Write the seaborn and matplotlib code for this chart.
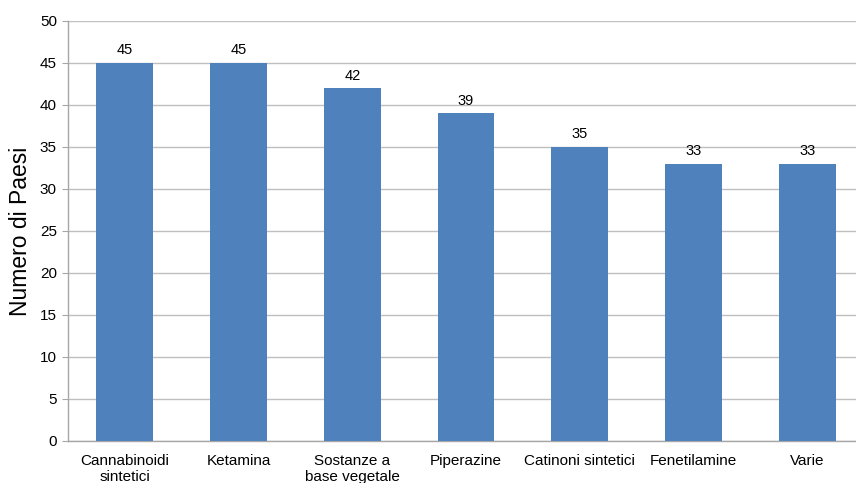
import matplotlib
matplotlib.use("Agg")
import matplotlib.pyplot as plt
import seaborn as sns
import pandas as pd

categories = ["Cannabinoidi\nsintetici", "Ketamina", "Sostanze a\nbase vegetale",
              "Piperazine", "Catinoni sintetici", "Fenetilamine", "Varie"]
values = [45, 45, 42, 39, 35, 33, 33]
yticks = list(range(0, 51, 5))

df = pd.DataFrame({"categoria": categories, "paesi": values})

sns.set_style("white")
plt.rcParams["font.family"] = ["Liberation Sans", "DejaVu Sans"]
plt.rcParams["text.color"] = "black"
plt.rcParams["axes.labelcolor"] = "black"
plt.rcParams["xtick.color"] = "black"
plt.rcParams["ytick.color"] = "black"

fig = plt.figure(figsize=(8.56, 4.83), dpi=100)
ax = fig.add_axes([68 / 856, 42 / 483, 1 - 68 / 856, 420 / 483])

sns.barplot(data=df, x="categoria", y="paesi", color="#4F81BD", saturation=1,
            width=0.5, ax=ax, zorder=3, edgecolor="none", linewidth=0)

ax.set_ylim(0, 50)
ax.set_xlim(-0.5, 6.43)
ax.set_yticks(yticks)
ax.set_yticklabels([str(t) for t in yticks], fontsize=11)
ax.grid(axis="y", color="#BFBFBF", linewidth=1, zorder=0)
ax.set_axisbelow(True)

for s in ["top", "right"]:
    ax.spines[s].set_visible(False)
for s in ["left", "bottom"]:
    ax.spines[s].set_color("#A6A6A6")
    ax.spines[s].set_linewidth(1)

ax.tick_params(axis="y", left=True, length=4, color="#A6A6A6", labelcolor="black", pad=4)
ax.tick_params(axis="x", bottom=False, labelsize=11, labelcolor="black", pad=6)
ax.set_xlabel("")
ax.set_ylabel("Numero di Paesi", fontsize=16.5, labelpad=6, color="black")

for c in ax.containers:
    ax.bar_label(c, labels=[str(v) for v in values], padding=4, fontsize=10.5,
                 color="black")

fig.savefig("out.png", dpi=100)
